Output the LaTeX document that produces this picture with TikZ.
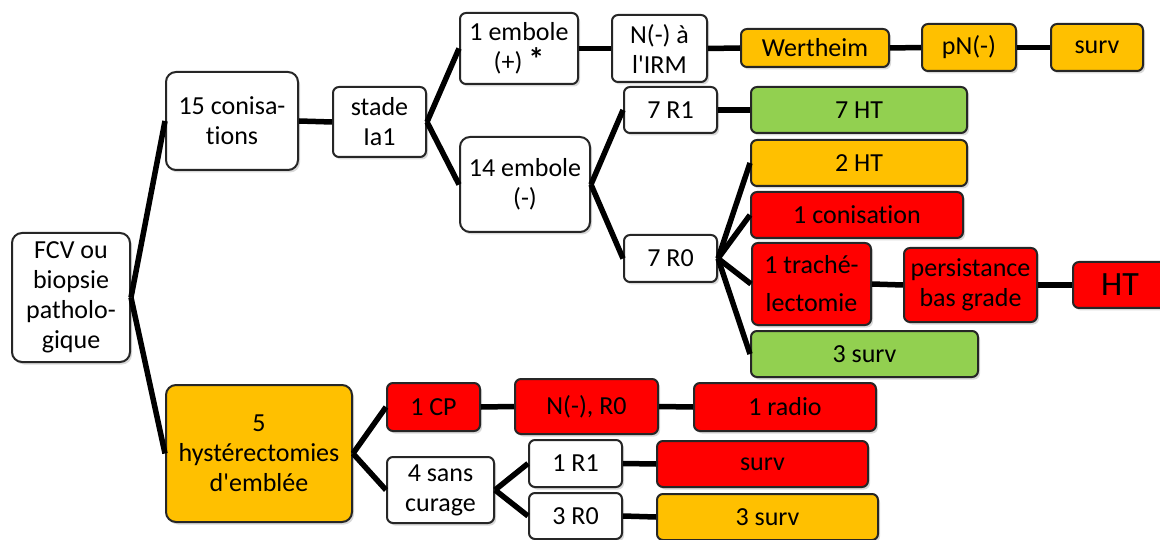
\documentclass[tikz,border=0pt]{standalone}
\usepackage{fontspec}
\setmainfont{Carlito}[Ligatures={TeX,NoCommon}]
\usetikzlibrary{shadows}
\definecolor{orangebox}{HTML}{FFC000}
\definecolor{greenbox}{HTML}{92D050}
\definecolor{redbox}{HTML}{FF0000}
\definecolor{edgebox}{HTML}{262626}
\tikzset{
	box/.style={draw=edgebox, line width=2pt, rounded corners=6pt, align=center, inner sep=0pt, font=\fontsize{26}{30}\selectfont, drop shadow={shadow xshift=2pt, shadow yshift=-2.5pt, opacity=0.3}},
	bigbox/.style={rounded corners=10pt},
	wbox/.style={box, fill=white},
	obox/.style={box, fill=orangebox},
	gbox/.style={box, fill=greenbox},
	rbox/.style={box, fill=redbox},
	link/.style={line width=5.5pt}
}

\begin{document}
\begin{tikzpicture}[x=1pt,y=-1pt]
			\useasboundingbox (0,0) rectangle (1160,540);
			\node[wbox, bigbox, minimum width=118pt, minimum height=129pt] (fcv) at (71,297.5) {FCV ou\\biopsie\\patholo-\\gique};
			\node[wbox, bigbox, minimum width=132pt, minimum height=98pt] (con) at (232,121) {15 conisa-\\tions};
			\node[wbox, minimum width=93pt, minimum height=70pt] (stade) at (379.5,122) {stade\\Ia1};
			\node[wbox, minimum width=118pt, minimum height=71pt] (embp) at (519,48.5) {1 embole\\(+) {\bfseries\fontsize{32}{30}\selectfont *}};
			\node[wbox, bigbox, minimum width=130pt, minimum height=95pt] (embm) at (525,184.5) {14 embole\\(-)};
			\node[wbox, minimum width=95pt, minimum height=67pt] (irm) at (659.5,48.5) {N(-) à\\l\textquotesingle IRM};
			\node[obox, minimum width=148pt, minimum height=38pt] (wert) at (815,48) {Wertheim};
			\node[obox, minimum width=94pt, minimum height=47pt] (pn) at (969,47.5) {pN(-)};
			\node[obox, minimum width=92pt, minimum height=47pt] (survA) at (1097,47.5) {surv};
			\node[wbox, minimum width=93pt, minimum height=46pt] (rA) at (670.5,110) {7 R1};
			\node[gbox, minimum width=216pt, minimum height=46pt] (htA) at (859,110) {7 HT};
			\node[wbox, minimum width=93pt, minimum height=47pt] (rB) at (670.5,258.5) {7 R0};
			\node[obox, minimum width=216pt, minimum height=46pt] (htB) at (859,163) {2 HT};
			\node[rbox, minimum width=212pt, minimum height=46pt] (conis) at (857,215) {1 conisation};
			\node[rbox, minimum width=119pt, minimum height=82pt, font=\fontsize{26}{38}\selectfont] (trach) at (811.5,284) {1 traché-\\lectomie};
			\node[rbox, minimum width=133pt, minimum height=74pt] (pers) at (970.5,285) {persistance\\bas grade};
			\node[rbox, minimum width=94pt, minimum height=46pt, font=\fontsize{34}{38}\selectfont] (htC) at (1120,285) {HT};
			\node[gbox, minimum width=227pt, minimum height=46pt] (survB) at (864.5,354) {3 surv};
			\node[obox, bigbox, minimum width=186pt, minimum height=137pt] (hyst) at (259,453.5) {5\\hystérectomies\\d\textquotesingle emblée};
			\node[rbox, minimum width=93pt, minimum height=48pt] (cp) at (433.5,407) {1 CP};
			\node[rbox, minimum width=143pt, minimum height=55pt] (nr) at (586.5,406.5) {N(-), R0};
			\node[rbox, minimum width=182pt, minimum height=48pt] (radio) at (785,407) {1 radio};
			\node[wbox, minimum width=107pt, minimum height=66pt] (sans) at (440.5,490) {4 sans\\curage};
			\node[wbox, minimum width=93pt, minimum height=47pt] (rC) at (575.5,463.5) {1 R1};
			\node[rbox, minimum width=211pt, minimum height=46pt] (survC) at (762.5,464) {surv};
			\node[wbox, minimum width=93pt, minimum height=46pt] (rD) at (575.5,516) {3 R0};
			\node[obox, minimum width=221pt, minimum height=46pt] (survD) at (767.5,517) {3 surv};
			\draw[link] (fcv.east) -- (con.west);
			\draw[link] (fcv.east) -- (hyst.west);
			\draw[link] (con.east) -- (stade.west);
			\draw[link] (stade.east) -- (embp.west);
			\draw[link] (stade.east) -- (embm.west);
			\draw[link] (embp.east) -- (irm.west);
			\draw[link] (irm.east) -- (wert.west);
			\draw[link] (wert.east) -- (pn.west);
			\draw[link] (pn.east) -- (survA.west);
			\draw[link] (embm.east) -- (rA.west);
			\draw[link] (embm.east) -- (rB.west);
			\draw[link] (rA.east) -- (htA.west);
			\draw[link] (rB.east) -- (htB.west);
			\draw[link] (rB.east) -- (conis.west);
			\draw[link] (rB.east) -- (trach.west);
			\draw[link] (rB.east) -- (survB.west);
			\draw[link] (trach.east) -- (pers.west);
			\draw[link] (pers.east) -- (htC.west);
			\draw[link] (hyst.east) -- (cp.west);
			\draw[link] (hyst.east) -- (sans.west);
			\draw[link] (cp.east) -- (nr.west);
			\draw[link] (nr.east) -- (radio.west);
			\draw[link] (sans.east) -- (rC.west);
			\draw[link] (sans.east) -- (rD.west);
			\draw[link] (rC.east) -- (survC.west);
			\draw[link] (rD.east) -- (survD.west);
		\end{tikzpicture}
\end{document}
